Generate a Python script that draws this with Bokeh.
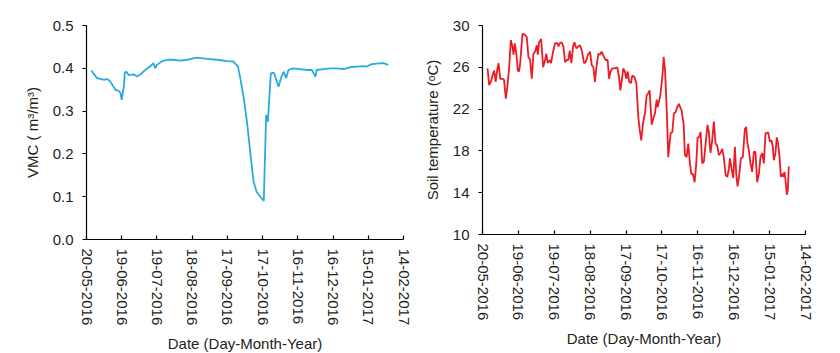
from bokeh.plotting import figure
from bokeh.layouts import row
from bokeh.models import FixedTicker, Range1d, PrintfTickFormatter
from bokeh.embed import file_html
from bokeh.resources import INLINE

# ---- data (day offsets from 20-05-2016) ----
tick_labels = ["20-05-2016", "19-06-2016", "19-07-2016", "18-08-2016", "17-09-2016",
               "17-10-2016", "16-11-2016", "16-12-2016", "15-01-2017", "14-02-2017"]
tick_days = [0, 30, 60, 90, 120, 150, 180, 210, 240, 270]

vmc_day = [4, 9, 15, 17.6, 20, 23, 25, 27.5, 29, 30, 32, 32.6, 34, 36, 40, 43, 46, 50, 54, 57,
           58.5, 60, 64, 69, 74, 80, 86, 94, 103, 111, 120, 125, 129, 131, 134, 137, 140, 142.3,
           145, 148, 151, 153, 154.5, 156, 157, 159.5, 161.6, 163.6, 166, 168, 170, 172, 176,
           182, 188, 192, 195, 196, 202, 208, 213, 219, 225, 230, 236, 239, 242, 247, 253, 257]
vmc_value = [0.395, 0.377, 0.373, 0.375, 0.370, 0.357, 0.349, 0.347, 0.342, 0.326, 0.361, 0.390,
             0.392, 0.384, 0.386, 0.381, 0.386, 0.396, 0.404, 0.412, 0.400, 0.408, 0.416, 0.420,
             0.420, 0.418, 0.420, 0.425, 0.422, 0.420, 0.417, 0.416, 0.404, 0.377, 0.330, 0.267,
             0.190, 0.135, 0.111, 0.100, 0.090, 0.291, 0.275, 0.345, 0.388, 0.390, 0.373, 0.357,
             0.380, 0.392, 0.377, 0.396, 0.400, 0.398, 0.396, 0.396, 0.380, 0.396, 0.398, 0.400,
             0.400, 0.398, 0.403, 0.404, 0.405, 0.404, 0.409, 0.411, 0.412, 0.408]

temp_day = [4.2, 5.6, 7, 8.3, 9.7, 11, 12.5, 13.4, 14.8, 16.7, 18, 19.5, 20.9, 22.3, 23.7, 25,
            26, 27, 28.4, 29.5, 30.6, 31.5, 33.4, 35.6, 37, 38.4, 39.8, 41.2, 42.6, 44, 45.4,
            46.2, 47.3, 49, 50.7, 52.3, 53.4, 54.5, 56.2, 57.3, 59, 60.7, 62.6, 63.5, 64.6, 66.2,
            67.6, 69, 70.4, 71.8, 72.9, 74.3, 75.7, 76.8, 78.5, 80.2, 81.5, 83, 84.9, 86.3, 88.2,
            89.9, 91.3, 92.7, 94, 95.2, 96.9, 98.3, 99.6, 101.6, 103, 104.6, 105.8, 107, 108.5,
            110.8, 112.7, 114.1, 115.2, 116.3, 117.7, 119, 120.2, 121.3, 122.7, 124.1, 125.2,
            126.9, 128.6, 130.2, 131.3, 132.7, 134.1, 135.8, 137.2, 138.6, 139.7, 141.4, 142.8,
            144.2, 145.6, 146.4, 148.5, 149.6, 150.7, 151.4, 152.6, 154, 155.3, 156.4, 157.3,
            158.7, 160, 161.4, 162.8, 164.2, 165.6, 166.4, 167, 168.1, 169.2, 170.6, 172, 173.4,
            174.5, 175.9, 177.3, 178.7, 179.8, 180.9, 182.3, 183.7, 185.1, 186.5, 188.1, 189.2,
            190.6, 192, 193.4, 194.8, 196.2, 197.6, 199, 200.4, 201.8, 203.2, 204.6, 206, 206.8,
            208.2, 209.6, 211, 212.1, 213.2, 214.6, 216, 217.6, 219.3, 220.4, 221.5, 222.6, 224,
            225.4, 226.8, 228.2, 229.6, 231, 232.4, 233.8, 235.2, 236.6, 237.7, 238.8, 240.2,
            241.6, 242.7, 243.5, 244.9, 246, 247.1, 248.3, 249.4, 250.5, 251.6, 252.4, 253.3,
            254.4, 255.2, 256]
temp_value = [25.9, 24.3, 24.6, 25.2, 25.7, 24.6, 25.9, 26.4, 24.9, 24.9, 24.8, 23.0, 24.3, 26.0,
              28.6, 28.0, 27.2, 28.3, 27.2, 25.7, 25.6, 26.4, 29.2, 29.1, 28.9, 27.0, 26.7, 24.9,
              27.3, 27.5, 28.1, 27.2, 28.4, 28.7, 26.0, 26.7, 27.3, 26.4, 26.7, 26.4, 27.5, 28.3,
              28.3, 28.0, 28.3, 28.4, 28.0, 26.5, 26.7, 26.7, 27.6, 26.4, 28.0, 28.4, 27.8, 28.0,
              28.1, 27.6, 26.4, 26.5, 27.2, 27.5, 26.2, 26.0, 24.6, 26.0, 27.3, 27.2, 27.5, 27.0,
              26.7, 26.7, 24.9, 25.6, 25.9, 25.9, 26.0, 25.1, 23.8, 24.6, 25.9, 25.6, 24.9, 25.6,
              24.6, 24.5, 25.2, 25.1, 24.5, 21.3, 20.1, 19.0, 20.6, 21.6, 23.3, 23.5, 23.8, 20.5,
              21.1, 21.6, 22.9, 22.2, 23.2, 24.3, 25.6, 27.0, 25.7, 21.9, 17.4, 18.7, 19.7, 19.8,
              21.6, 21.7, 22.2, 22.5, 22.1, 21.9, 21.4, 20.6, 17.6, 17.4, 18.7, 16.8, 15.8, 15.8,
              15.0, 16.8, 19.3, 19.3, 19.8, 16.8, 17.0, 18.7, 20.5, 19.8, 17.8, 19.0, 20.8, 18.7,
              18.5, 17.6, 17.8, 18.2, 17.3, 15.7, 15.5, 16.3, 17.3, 16.3, 15.4, 18.4, 15.8, 14.6,
              15.7, 17.3, 17.4, 20.1, 20.3, 18.7, 18.1, 16.8, 16.0, 17.9, 17.9, 15.0, 15.8, 17.4,
              17.8, 16.8, 19.7, 19.7, 19.8, 18.9, 19.0, 18.4, 17.1, 17.8, 19.3, 18.7, 17.4, 15.5,
              15.8, 15.5, 16.0, 15.2, 13.8, 14.2, 16.5]

FONT = "Liberation Sans"
TXT = "#231f20"


def style(p, xlabel, ylabel):
    p.grid.visible = False
    p.outline_line_color = None
    p.background_fill_color = "white"
    p.border_fill_color = "white"
    xa = p.xaxis[0]
    xa.ticker = FixedTicker(ticks=tick_days)
    xa.major_label_overrides = {d: lab for d, lab in zip(tick_days, tick_labels)}
    xa.major_label_orientation = "vertical"
    xa.major_tick_in = 4
    xa.major_tick_out = 0
    xa.minor_tick_line_color = None
    xa.major_label_standoff = 9
    xa.axis_label = xlabel
    xa.axis_label_standoff = 7
    ya = p.yaxis[0]
    ya.major_tick_in = 0
    ya.major_tick_out = 4
    ya.minor_tick_line_color = None
    ya.major_label_standoff = 9
    ya.axis_label = ylabel
    ya.axis_label_standoff = 9
    for ax in (xa, ya):
        ax.axis_line_color = "black"
        ax.axis_line_width = 1.2
        ax.major_tick_line_color = "black"
        ax.major_tick_line_width = 1.2
        ax.major_label_text_font = FONT
        ax.major_label_text_font_size = "15px"
        ax.major_label_text_color = TXT
        ax.axis_label_text_font = FONT
        ax.axis_label_text_font_size = "15px"
        ax.axis_label_text_font_style = "normal"
        ax.axis_label_text_color = TXT


# ---- left: VMC ----
p1 = figure(width=420, height=353, output_backend="svg", toolbar_location=None,
            x_range=Range1d(0, 270), y_range=Range1d(0, 0.5),
            frame_width=317, frame_height=214,
            min_border_left=86, min_border_right=17, min_border_top=24, min_border_bottom=115)
p1.line(vmc_day, vmc_value, line_color="#29abe2", line_width=1.8)
style(p1, "Date (Day-Month-Year)", "VMC ( m³/m³)")
p1.yaxis[0].ticker = FixedTicker(ticks=[0, 0.1, 0.2, 0.3, 0.4, 0.5])
p1.yaxis[0].formatter = PrintfTickFormatter(format="%.1f")

# ---- right: soil temperature ----
p2 = figure(width=420, height=353, output_backend="svg", toolbar_location=None,
            x_range=Range1d(0, 270), y_range=Range1d(10, 30),
            frame_width=323, frame_height=209,
            min_border_left=60, min_border_right=37, min_border_top=25, min_border_bottom=119)
p2.line(temp_day, temp_value, line_color="#ed1c24", line_width=1.8)
style(p2, "Date (Day-Month-Year)", "Soil temperature (ᵒC)")
p2.yaxis[0].ticker = FixedTicker(ticks=[10, 14, 18, 22, 26, 30])

layout = row(p1, p2, spacing=0)
open("out.html", "w").write(file_html(layout, INLINE))
